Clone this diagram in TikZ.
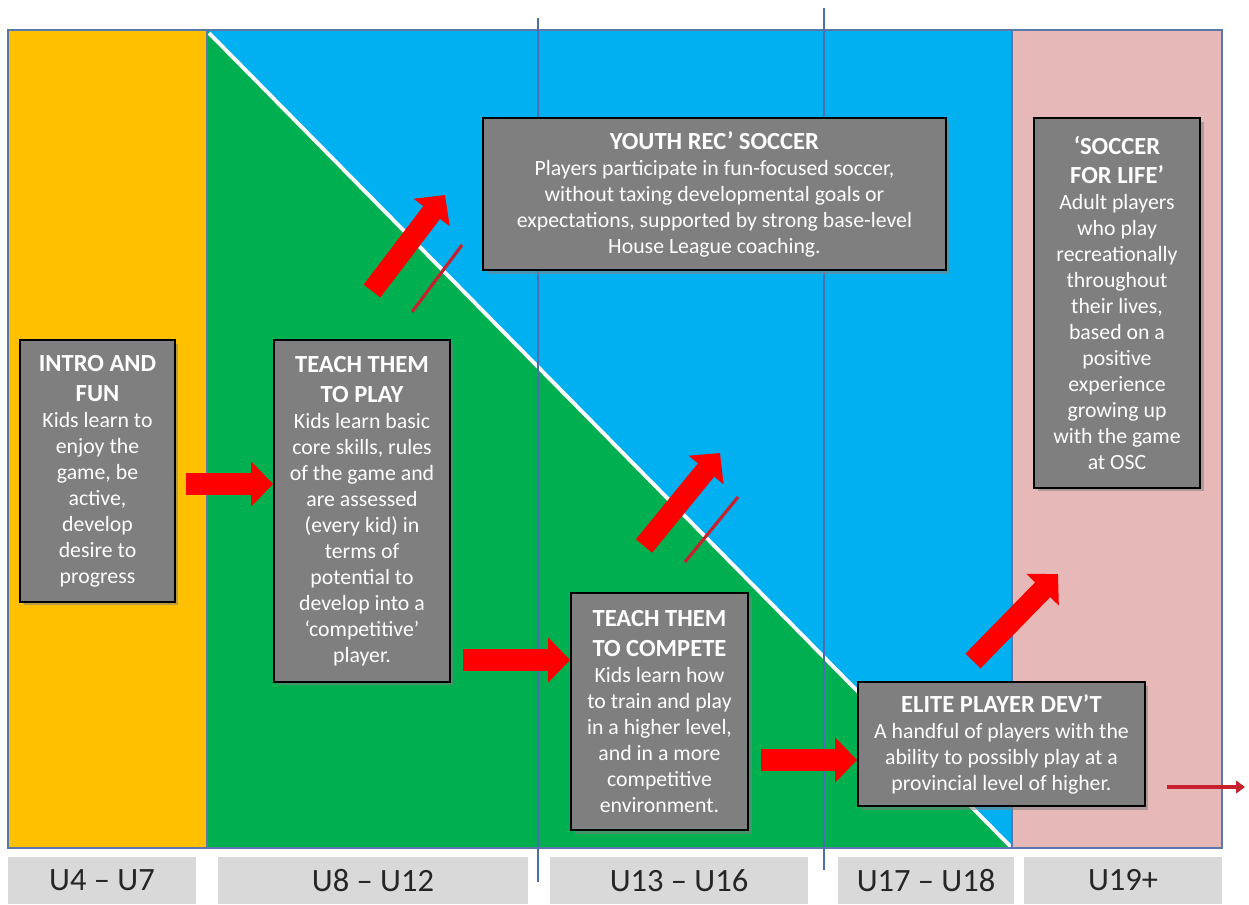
\documentclass[tikz,border=0pt]{standalone}
\usepackage{fontspec}
\setmainfont{Carlito}
\usetikzlibrary{arrows.meta,shadows}

\definecolor{colyellow}{HTML}{FFC000}
\definecolor{colgreen}{HTML}{00B050}
\definecolor{colblue}{HTML}{00B0F0}
\definecolor{colpink}{HTML}{E6B8B7}
\definecolor{boxgray}{HTML}{7F7F7F}
\definecolor{labelgray}{HTML}{D9D9D9}
\definecolor{framecol}{HTML}{5A78AA}
\definecolor{gridcol}{HTML}{4A6FB0}
\definecolor{arrowred}{HTML}{FF0000}
\definecolor{linered}{HTML}{C8202C}
\definecolor{agetext}{HTML}{262626}

\newcommand{\ttl}{\fontsize{14}{17}\selectfont\bfseries}
\newcommand{\bdy}{\fontsize{12.4}{14.8}\selectfont\mdseries}

\begin{document}
\begin{tikzpicture}[x=0.02cm, y=-0.02cm,
		stagebox/.style={draw=black, line width=1.1pt, fill=boxgray, text=white, align=center, inner sep=2pt, font=\bdy,
			drop shadow={shadow xshift=2pt, shadow yshift=-2pt, opacity=0.55}},
		agebox/.style={fill=labelgray, minimum height=0.94cm, inner sep=0pt, text=agetext, font=\fontsize{18.5}{22}\selectfont},
		bigarrow/.style={draw=arrowred, line width=12pt, -{Triangle[length=12.5pt, width=25pt]}},
		thinarrow/.style={draw=linered, line width=2.2pt, -{Triangle[length=5pt, width=7pt]}},
		slash/.style={draw=linered, line width=1.8pt},
		gridline/.style={draw=gridcol, line width=0.8pt}
	]
	\useasboundingbox (0,0) rectangle (1249,904);

	% age bands
	\fill[colyellow] (8,30) rectangle (207,848);
	\fill[colblue] (207,30) rectangle (1012,848);
	\fill[colgreen] (207,30) -- (1012,848) -- (207,848) -- cycle;
	\fill[colpink] (1012,30) rectangle (1222,848);
	\draw[white, line width=2.2pt] (209,33) -- (1012,848);
	\draw[framecol, line width=0.8pt] (207,30) -- (207,848) (1012,30) -- (1012,848);
	\draw[framecol, line width=1pt] (8,30) rectangle (1222,848);
	\draw[gridline] (538,18) -- (538,882);
	\draw[gridline] (824,8) -- (824,870);

	% stages
	\node[stagebox, minimum width=3.1cm, minimum height=5.24cm] (intro) at (97.5,471)
		{\ttl INTRO AND\\[2.2pt]\ttl FUN\\\bdy Kids learn to\\enjoy the\\game, be\\active,\\develop\\desire to\\progress};
	\node[stagebox, minimum width=3.52cm, minimum height=6.84cm] (play) at (362,511)
		{\ttl TEACH THEM\\[2.2pt]\ttl TO PLAY\\\bdy Kids learn basic\\core skills, rules\\of the game and\\are assessed\\(every kid) in\\terms of\\potential to\\develop into a\\‘competitive’\\player.};
	\node[stagebox, minimum width=9.26cm, minimum height=3.04cm] (rec) at (714.5,194)
		{\ttl YOUTH REC’ SOCCER\\\bdy Players participate in fun-focused soccer,\\without taxing developmental goals or\\expectations, supported by strong base-level\\House League coaching.};
	\node[stagebox, minimum width=3.32cm, minimum height=7.4cm] (life) at (1117,303)
		{\ttl ‘SOCCER\\[2.2pt]\ttl FOR LIFE’\\\bdy Adult players\\who play\\recreationally\\throughout\\their lives,\\based on a\\positive\\experience\\growing up\\with the game\\at OSC};
	\node[stagebox, minimum width=3.54cm, minimum height=4.74cm] (compete) at (659.5,711.5)
		{\ttl TEACH THEM\\[2.2pt]\ttl TO COMPETE\\\bdy Kids learn how\\to train and play\\in a higher level,\\and in a more\\competitive\\environment.};
	\node[stagebox, minimum width=5.74cm, minimum height=2.48cm] (elite) at (1001.5,744)
		{\ttl ELITE PLAYER DEV’T\\\bdy A handful of players with the\\ability to possibly play at a\\provincial level of higher.};

	% age labels
	\node[agebox, minimum width=3.76cm] (u4) at (102,880.5) {U4 – U7};
	\node[agebox, minimum width=6.2cm] (u8) at (373,880.5) {U8 – U12};
	\node[agebox, minimum width=5.16cm] (u13) at (679,880.5) {U13 – U16};
	\node[agebox, minimum width=3.52cm] (u17) at (926,880.5) {U17 – U18};
	\node[agebox, minimum width=3.96cm] (u19) at (1123,880.5) {U19+};

	% arrows
	\coordinate (ra) at (0,484);
	\coordinate (rb) at (0,660);
	\coordinate (rc) at (0,760);
	\draw[bigarrow, shorten <=0.2cm] (intro.east |- ra) -- (play.west |- ra);
	\draw[bigarrow, shorten <=0.24cm] (play.east |- rb) -- (compete.west |- rb);
	\draw[bigarrow, shorten <=0.24cm] (compete.east |- rc) -- (elite.west |- rc);

	\coordinate (up1s) at (372,291);
	\coordinate (up1e) at (445,195);
	\coordinate (up2s) at (644,546);
	\coordinate (up2e) at (720,453);
	\coordinate (up3s) at (973,661);
	\coordinate (up3e) at (1058,574);
	\draw[bigarrow] (up1s) -- (up1e);
	\draw[bigarrow] (up2s) -- (up2e);
	\draw[bigarrow] (up3s) -- (up3e);

	\coordinate (cut1s) at (412,312);
	\coordinate (cut1e) at (462,245);
	\coordinate (cut2s) at (685,562);
	\coordinate (cut2e) at (738,497);
	\draw[slash] (cut1s) -- (cut1e);
	\draw[slash] (cut2s) -- (cut2e);

	\coordinate (outs) at (1167,787);
	\coordinate (oute) at (1245,787);
	\draw[thinarrow] (outs) -- (oute);
\end{tikzpicture}
\end{document}
